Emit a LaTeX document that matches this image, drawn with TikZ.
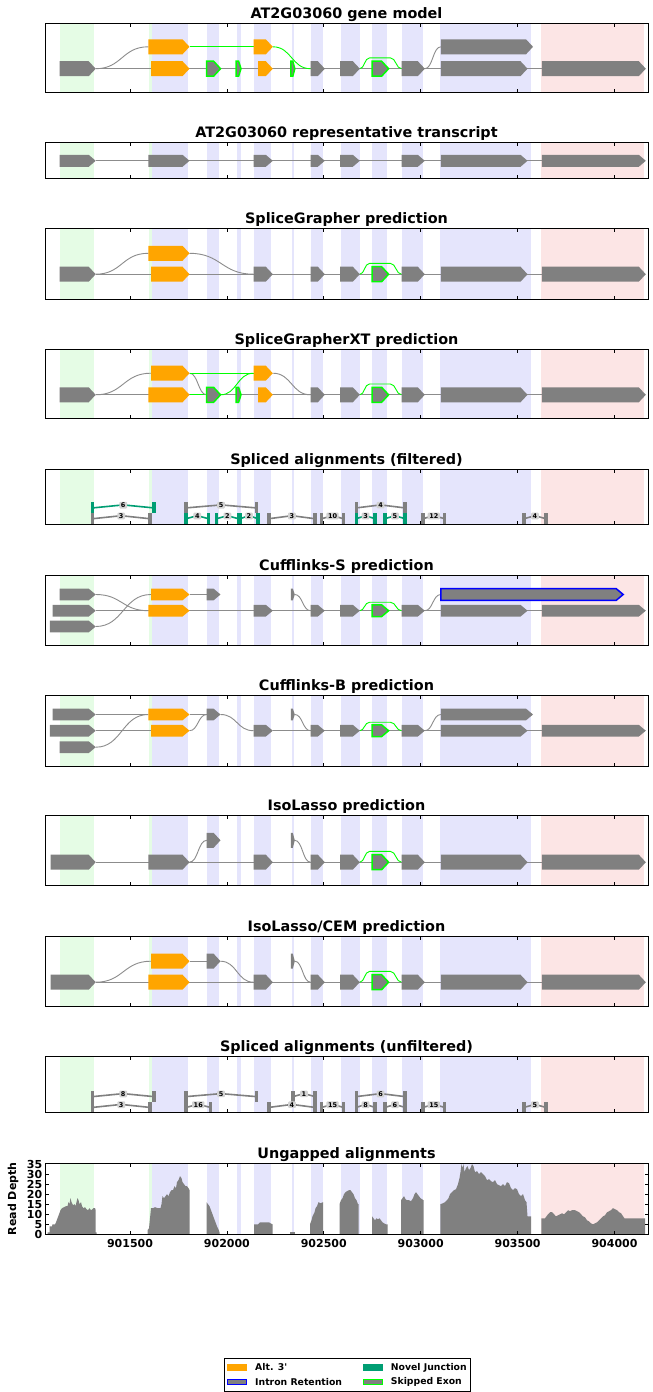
\documentclass[tikz,border=0pt]{standalone}
\usepackage{fontspec}
\setmainfont{DejaVu Sans}
\newfontfamily\plainsans{DejaVu Sans}
\usetikzlibrary{calc}

\definecolor{exgray}{RGB}{128,128,128}
\definecolor{intgray}{RGB}{140,140,140}
\definecolor{altorange}{RGB}{255,165,0}
\definecolor{skipgreen}{RGB}{0,255,0}
\definecolor{irblue}{RGB}{0,0,255}
\definecolor{novelteal}{RGB}{0,158,115}
\definecolor{bggreen}{RGB}{229,252,229}
\definecolor{bgblue}{RGB}{229,229,252}
\definecolor{bgpink}{RGB}{252,229,229}
\definecolor{lblgray}{RGB}{211,211,211}

\tikzset{
  gex/.style={fill=exgray},
  oex/.style={fill=altorange},
  sex/.style={fill=exgray, draw=skipgreen, line width=1.5pt},
  irex/.style={fill=exgray, draw=irblue, line width=1.5pt},
  intron/.style={draw=intgray, line width=0.9pt},
  skipline/.style={draw=skipgreen, line width=0.9pt},
  axisbox/.style={draw=black, line width=0.9pt},
  tickline/.style={draw=black, line width=0.8pt},
  titletext/.style={font=\bfseries\fontsize{14.4}{16}\selectfont, inner sep=0pt},
  ticktext/.style={font=\bfseries\fontsize{11}{12}\selectfont, inner sep=0pt},
  jlabel/.style={fill=lblgray, rounded corners=1pt, inner xsep=1.6pt, inner ysep=0.9pt,
    font=\bfseries\fontsize{6.5}{6.5}\selectfont, text=black},
  legtext/.style={font=\plainsans\bfseries\fontsize{9.3}{10}\selectfont, inner sep=0pt, anchor=west},
}

% exon: style, x start, x end, row centre, height
\newcommand\exonshape[5]{%
  \pgfmathsetmacro\exTip{min(7,0.5*(#3-#2))}%
  \path[#1] (#2,{#4-#5/2}) -- ({#3-\exTip},{#4-#5/2}) -- (#3,#4)
    -- ({#3-\exTip},{#4+#5/2}) -- (#2,{#4+#5/2}) -- cycle;}

% s-shaped connector between rows: style, x1, y1, x2, y2
\newcommand\sig[5]{%
  \draw[#1] (#2,#3) .. controls ({(#2+#4)/2},#3) and ({(#2+#4)/2},#5) .. (#4,#5);}

% bypass arc over the skipped exon: row centre, height
\newcommand\skiparc[2]{%
  \pgfmathsetmacro\arcTop{#1-0.72*#2}%
  \draw[skipline] (359.8,#1) .. controls (364.5,#1) and (364.5,\arcTop) .. (369.5,\arcTop)
    -- (390.5,\arcTop) .. controls (396,\arcTop) and (396,#1) .. (401.5,#1);}

% common 3' part of the gene: row centre, height
\newcommand\tailrow[2]{%
  \skiparc{#1}{#2}%
  \exonshape{gex}{310.5}{324.8}{#1}{#2}%
  \exonshape{gex}{340}{359.8}{#1}{#2}%
  \exonshape{sex}{372}{388.6}{#1}{#2}%
  \exonshape{gex}{401.5}{424.8}{#1}{#2}%
  \exonshape{gex}{440.8}{527.5}{#1}{#2}%
  \exonshape{gex}{541.8}{645.8}{#1}{#2}}

% shaded exon regions: top, bottom
\newcommand\panelbg[2]{%
  \foreach \xa/\xb in {60/94.3,149/151.5}{\fill[bggreen] (\xa,#1) rectangle (\xb,#2);}
  \foreach \xa/\xb in {151.5/187.7,206.7/219,236.5/240.7,254/270.7,291.7/294.3,311/322.7,
      340.8/359.5,372.3/386.7,402/423.3,440/531}{\fill[bgblue] (\xa,#1) rectangle (\xb,#2);}
  \fill[bgpink] (541,#1) rectangle (644,#2);}

% frame, ticks and title: top, bottom, title
\newcommand\panelbox[3]{%
  \draw[axisbox] (45,#1) rectangle (648,#2);
  \foreach \tx in {130,226.9,323.8,420.7,517.6,614.5}{%
    \draw[tickline] (\tx,#1) -- ++(0,3.5);
    \draw[tickline] (\tx,#2) -- ++(0,-3.5);}
  \node[titletext, anchor=base] at (346.5,{#1-4.8}) {#3};}

% splice junction: colour, donor x, acceptor x, tier top, read count
\newcommand\junc[5]{%
  \fill[#1] ({#2-1.7},#4) rectangle ({#2+1.7},{#4+10.8});
  \fill[#1] ({#3-1.7},#4) rectangle ({#3+1.7},{#4+10.8});
  \draw[#1, line width=1.6pt] (#2,{#4+5.5}) -- ({(#2+#3)/2},{#4+2.5}) -- (#3,{#4+5.5});
  \node[jlabel] at ({(#2+#3)/2},{#4+2.8}) {#5};}

\begin{document}
\begin{tikzpicture}[x=1pt, y=-1pt]
\fill[white] (0,0) rectangle (653,1392);
\useasboundingbox (0,0) rectangle (653,1392);

% ---------- gene model ----------
\panelbg{23.3}{92.7}
\draw[intron] (95.7,68.7) -- (541.8,68.7);
\sig{intron}{95.7}{68.7}{148.3}{46.8}
\draw[skipline] (189.5,46.8) -- (253.5,46.8);
\sig{skipline}{272.8}{46.8}{310.5}{68.7}
\sig{intron}{424.8}{68.7}{440.8}{46.8}
\exonshape{gex}{59.5}{95.7}{68.7}{15}
\exonshape{oex}{151}{189.5}{68.7}{15}
\exonshape{sex}{206.7}{220.5}{68.7}{15}
\exonshape{sex}{236.2}{241}{68.7}{15}
\exonshape{oex}{258}{272.8}{68.7}{15}
\exonshape{sex}{290.8}{294.8}{68.7}{15}
\tailrow{68.7}{15}
\exonshape{oex}{148.3}{189.5}{46.8}{15}
\exonshape{oex}{253.5}{272.8}{46.8}{15}
\exonshape{gex}{440.8}{533}{46.8}{15}
\panelbox{23.3}{92.7}{AT2G03060 gene model}

% ---------- representative transcript ----------
\panelbg{142.7}{178.3}
\draw[intron] (95.7,160.8) -- (541.8,160.8);
\foreach \xa/\xb in {59.5/95.7,148.3/189.5,253.5/272.8,310.5/324.8,340/359.8,401.5/424.8,440.8/527.5,541.8/645.8}
  {\exonshape{gex}{\xa}{\xb}{160.8}{12}}
\panelbox{142.7}{178.3}{AT2G03060 representative transcript}

% ---------- SpliceGrapher ----------
\panelbg{228.3}{299}
\draw[intron] (95.7,274.2) -- (541.8,274.2);
\sig{intron}{95.7}{274.2}{148.3}{253.3}
\sig{intron}{189.5}{253.3}{253.5}{274.2}
\exonshape{gex}{59.5}{95.7}{274.2}{15}
\exonshape{oex}{151}{189.5}{274.2}{15}
\exonshape{gex}{253.5}{272.8}{274.2}{15}
\tailrow{274.2}{15}
\exonshape{oex}{148.3}{189.5}{253.3}{15}
\panelbox{228.3}{299}{SpliceGrapher prediction}

% ---------- SpliceGrapherXT ----------
\panelbg{349}{418.3}
\draw[intron] (95.7,394.8) -- (541.8,394.8);
\draw[skipline] (189.5,394.8) -- (206.7,394.8);
\sig{intron}{95.7}{394.8}{151}{373.2}
\sig{intron}{189.5}{373.2}{206.7}{394.8}
\draw[skipline] (189.5,373.2) -- (253.5,373.2);
\sig{skipline}{220.5}{394.8}{253.5}{373.2}
\sig{intron}{272.8}{373.2}{310.5}{394.8}
\exonshape{gex}{59.5}{95.7}{394.8}{15}
\exonshape{oex}{148.3}{189.5}{394.8}{15}
\exonshape{sex}{206.7}{220.5}{394.8}{15}
\exonshape{sex}{236.2}{241}{394.8}{15}
\exonshape{oex}{258}{272.8}{394.8}{15}
\tailrow{394.8}{15}
\exonshape{oex}{151}{189.5}{373.2}{15}
\exonshape{oex}{253.5}{272.8}{373.2}{15}
\panelbox{349}{418.3}{SpliceGrapherXT prediction}

% ---------- spliced alignments, filtered ----------
\panelbg{469.3}{524}
\junc{novelteal}{92.7}{153.8}{502.4}{6}
\junc{exgray}{186}{256.2}{502.4}{5}
\junc{exgray}{356.2}{405}{502.4}{4}
\junc{exgray}{92.7}{149.8}{513.2}{3}
\junc{novelteal}{186}{208.6}{513.2}{4}
\junc{novelteal}{216.5}{238.3}{513.2}{2}
\junc{novelteal}{240}{258}{513.2}{2}
\junc{exgray}{268.9}{315}{513.2}{3}
\junc{exgray}{321.7}{343.5}{513.2}{10}
\junc{novelteal}{356.2}{375}{513.2}{3}
\junc{novelteal}{385}{405}{513.2}{5}
\junc{exgray}{422.9}{444.7}{513.2}{12}
\junc{exgray}{524}{545.9}{513.2}{4}
\panelbox{469.3}{524}{Spliced alignments (filtered)}

% ---------- Cufflinks-S ----------
\panelbg{575}{645.5}
\draw[intron] (95.7,610.7) -- (541.8,610.7);
\sig{intron}{95.7}{594.5}{148.3}{610.7}
\sig{intron}{95.7}{626.5}{151}{594.5}
\draw[intron] (189.5,594.5) -- (206.7,594.5);
\sig{intron}{294.8}{594.5}{310.5}{610.7}
\sig{intron}{424.8}{610.7}{440.8}{594.5}
\exonshape{gex}{59.5}{95.7}{594.5}{11.7}
\exonshape{oex}{151}{189.5}{594.5}{11.7}
\exonshape{gex}{206.7}{220.5}{594.5}{11.7}
\exonshape{gex}{290.8}{294.8}{594.5}{11.7}
\exonshape{irex}{440.8}{623.2}{594.5}{11.7}
\exonshape{gex}{52.6}{95.7}{610.7}{11.7}
\exonshape{oex}{148.3}{189.5}{610.7}{11.7}
\exonshape{gex}{253.5}{272.8}{610.7}{11.7}
\tailrow{610.7}{11.7}
\exonshape{gex}{49.8}{95.7}{626.5}{11.7}
\panelbox{575}{645.5}{Cufflinks-S prediction}

% ---------- Cufflinks-B ----------
\panelbg{695}{766}
\draw[intron] (95.7,714.5) -- (148.3,714.5);
\draw[intron] (189.5,714.5) -- (206.7,714.5);
\draw[intron] (95.7,730.7) -- (151,730.7);
\draw[intron] (272.8,730.7) -- (541.8,730.7);
\sig{intron}{95.7}{747.2}{148.3}{714.5}
\sig{intron}{189.5}{730.7}{206.7}{714.5}
\sig{intron}{220.5}{714.5}{253.5}{730.7}
\sig{intron}{294.8}{714.5}{310.5}{730.7}
\sig{intron}{424.8}{730.7}{440.8}{714.5}
\exonshape{gex}{52.6}{95.7}{714.5}{11.7}
\exonshape{oex}{148.3}{189.5}{714.5}{11.7}
\exonshape{gex}{206.7}{220.5}{714.5}{11.7}
\exonshape{gex}{290.8}{294.8}{714.5}{11.7}
\exonshape{gex}{440.8}{533}{714.5}{11.7}
\exonshape{gex}{49.8}{95.7}{730.7}{11.7}
\exonshape{oex}{151}{189.5}{730.7}{11.7}
\exonshape{gex}{253.5}{272.8}{730.7}{11.7}
\tailrow{730.7}{11.7}
\exonshape{gex}{59.5}{95.7}{747.2}{11.7}
\panelbox{695}{766}{Cufflinks-B prediction}

% ---------- IsoLasso ----------
\panelbg{815.7}{885.7}
\draw[intron] (95.7,862.2) -- (541.8,862.2);
\sig{intron}{189.5}{862.2}{206.7}{840.3}
\sig{intron}{294.8}{840.3}{310.5}{862.2}
\exonshape{gex}{206.7}{220.5}{840.3}{15}
\exonshape{gex}{290.8}{294.8}{840.3}{15}
\exonshape{gex}{50.6}{95.7}{862.2}{15}
\exonshape{gex}{148.3}{189.5}{862.2}{15}
\exonshape{gex}{253.5}{272.8}{862.2}{15}
\tailrow{862.2}{15}
\panelbox{815.7}{885.7}{IsoLasso prediction}

% ---------- IsoLasso/CEM ----------
\panelbg{936.7}{1006.7}
\draw[intron] (95.7,982.2) -- (541.8,982.2);
\sig{intron}{95.7}{982.2}{151}{961.2}
\draw[intron] (189.5,961.2) -- (206.7,961.2);
\sig{intron}{220.5}{961.2}{253.5}{982.2}
\sig{intron}{294.8}{961.2}{310.5}{982.2}
\exonshape{oex}{151}{189.5}{961.2}{15}
\exonshape{gex}{206.7}{220.5}{961.2}{15}
\exonshape{gex}{290.8}{294.8}{961.2}{15}
\exonshape{gex}{50.6}{95.7}{982.2}{15}
\exonshape{oex}{148.3}{189.5}{982.2}{15}
\exonshape{gex}{253.5}{272.8}{982.2}{15}
\tailrow{982.2}{15}
\panelbox{936.7}{1006.7}{IsoLasso/CEM prediction}

% ---------- spliced alignments, unfiltered ----------
\panelbg{1056.7}{1112.7}
\junc{exgray}{92.7}{153.8}{1091.1}{8}
\junc{exgray}{186}{256.2}{1091.1}{5}
\junc{exgray}{293}{315}{1091.1}{1}
\junc{exgray}{356.2}{405}{1091.1}{6}
\junc{exgray}{92.7}{149.8}{1101.9}{3}
\junc{exgray}{186}{210.5}{1101.9}{16}
\junc{exgray}{268.9}{315}{1101.9}{4}
\junc{exgray}{321.7}{343.5}{1101.9}{15}
\junc{exgray}{356.2}{375}{1101.9}{8}
\junc{exgray}{385}{405}{1101.9}{6}
\junc{exgray}{422.9}{444.7}{1101.9}{15}
\junc{exgray}{524}{545.9}{1101.9}{5}
\panelbox{1056.7}{1112.7}{Spliced alignments (unfiltered)}

% ---------- ungapped read depth ----------
\panelbg{1163.3}{1234.3}
\begin{scope}[yshift=-1234.3pt, y=2.006pt]
\fill[exgray] (47.5,0) -- (47.5,1) -- (49.5,1) -- (49.5,4) -- (52,4) -- (52.5,5) -- (55,5) -- (56,6) -- (57.5,8)
  -- (59,10) -- (60.5,12) -- (62,13) -- (64,13.5) -- (66,14) -- (67.5,14) -- (68.5,16) -- (69.5,15) -- (70.5,18)
  -- (71.5,16) -- (73,14.5) -- (74.5,15) -- (75.5,14) -- (76.5,16) -- (77.5,18) -- (78.5,17) -- (79.5,15)
  -- (81,16) -- (82,14) -- (83.5,13) -- (85,13.5) -- (86.5,12.5) -- (88,12) -- (89.5,13) -- (91,12)
  -- (92.5,12.5) -- (93.5,13) -- (95,13) -- (95.7,12) -- (95.7,1) -- (96.5,1) -- (96.5,0) -- cycle;
\fill[exgray] (147.5,0) -- (147.5,2) -- (149,3) -- (150,8) -- (151,13) -- (153,13) -- (155,13.5) -- (158,13)
  -- (160.5,13) -- (161.5,15) -- (162.5,19) -- (164,18) -- (165.5,19) -- (167,20) -- (168.5,19) -- (170,21)
  -- (171.5,22) -- (173,22) -- (174.5,24) -- (176,23) -- (177,26) -- (178.5,27) -- (180,29) -- (181.5,28)
  -- (182.5,26) -- (184,25) -- (185.5,24) -- (187,24) -- (188.5,23) -- (189.5,22) -- (189.5,0) -- cycle;
\fill[exgray] (206.5,0) -- (206.5,16) -- (208,15) -- (209.5,14) -- (211,12) -- (212.5,10) -- (214,8)
  -- (215.5,6) -- (217,4) -- (218.5,2.5) -- (219.5,1) -- (219.5,0) -- cycle;
\fill[exgray] (254,0) -- (254,5) -- (258,5) -- (260,6) -- (266,6) -- (269,6) -- (270.5,5.5) -- (272.5,5)
  -- (272.5,0) -- cycle;
\fill[exgray] (289.5,0) -- (289.5,1) -- (295,1) -- (295,0) -- cycle;
\fill[exgray] (310,0) -- (310,5) -- (311.5,7) -- (312.5,9) -- (313.5,10) -- (314.5,11) -- (315.5,13)
  -- (317,14) -- (318.5,16) -- (320.5,15.5) -- (323,16) -- (323,0) -- cycle;
\fill[exgray] (339.5,0) -- (339.5,15) -- (341,17) -- (342.5,18) -- (344,20) -- (345.5,21) -- (347,21.5)
  -- (349,22) -- (350.5,22) -- (352,21) -- (353.5,20) -- (355,18) -- (356.5,17) -- (358,15) -- (358.5,15)
  -- (358.5,0) -- cycle;
\fill[exgray] (372,0) -- (372,9) -- (373.5,8) -- (375,7) -- (376.5,8) -- (378,7.5) -- (379.5,8) -- (381,7)
  -- (382.5,6) -- (384,5.5) -- (386,5) -- (387.5,5) -- (387.5,0) -- cycle;
\fill[exgray] (401,0) -- (401,17) -- (402.5,18) -- (404,19) -- (405.5,17.5) -- (407,17) -- (409,17)
  -- (411,16.5) -- (413,18) -- (414.5,20) -- (416,21) -- (417.5,20) -- (419,19) -- (420.5,18) -- (422,17.5)
  -- (423.5,17) -- (423.5,0) -- cycle;
\fill[exgray] (440.3,0) -- (440.3,15) -- (443,15.5) -- (445,16) -- (447,17) -- (448.5,18) -- (450,20)
  -- (452,21) -- (454,22) -- (456,22.5) -- (458,25) -- (459.5,28) -- (460.5,31) -- (461.5,35) -- (462.5,33)
  -- (463.5,35) -- (464.5,31) -- (466,33) -- (467.5,34) -- (469,32) -- (470.5,33) -- (472,35) -- (473.5,34)
  -- (475,31) -- (477,31.5) -- (479,30) -- (481,31) -- (483,30) -- (485,29) -- (487,27) -- (489,27.5)
  -- (491,26.5) -- (493,26) -- (495,27) -- (497,25) -- (499,24.5) -- (501,24) -- (503,25) -- (505,24)
  -- (507,26) -- (509,25.5) -- (511,23) -- (513,22) -- (515,23) -- (517,22.5) -- (519,20) -- (521,19)
  -- (523,20) -- (525,17) -- (526.5,16) -- (527.5,9) -- (531,9) -- (531,0) -- cycle;
\fill[exgray] (541.3,0) -- (541.3,8) -- (545,8) -- (546.5,9) -- (548,10) -- (550,11) -- (552,11) -- (554,10)
  -- (556,9) -- (558,9.5) -- (560,10) -- (562,10.5) -- (564,10) -- (566,11) -- (568,12) -- (570,11.5)
  -- (572,12) -- (575,12) -- (577,11.5) -- (579,11) -- (581,10) -- (583,9) -- (585,8.5) -- (587,7)
  -- (589,6.5) -- (591,5.5) -- (593,5) -- (595,5.5) -- (597,6) -- (599,7) -- (601,8) -- (603,9) -- (605,9.5)
  -- (607,11) -- (609,11.5) -- (611,12) -- (613,13) -- (615,12.5) -- (617,12) -- (619,11) -- (621,10.5)
  -- (623,9) -- (624.5,8) -- (645,8) -- (645,0) -- cycle;
\end{scope}
\panelbox{1163.3}{1234.3}{Ungapped alignments}
\foreach \d in {5,10,...,30}{%
  \draw[tickline] (45,{1234.3-2.006*\d}) -- ++(3.5,0);
  \draw[tickline] (648,{1234.3-2.006*\d}) -- ++(-3.5,0);}
\foreach \d in {0,5,...,35}{%
  \node[ticktext, anchor=base east] at (42.5,{1234.3-2.006*\d+4}) {\d};}
\foreach \tx/\lab in {130/901500,226.9/902000,323.8/902500,420.7/903000,517.6/903500,614.5/904000}{%
  \node[ticktext, anchor=base] at (\tx,1247) {\lab};}
\node[ticktext, rotate=90] at (13,1198.8) {Read Depth};

% ---------- legend ----------
\draw[black, line width=0.6pt] (224,1358) rectangle (470.5,1391);
\fill[altorange] (226.7,1364.2) rectangle (247.3,1370.8);
\node[legtext] (la) at (255,1367.5) {Alt. 3'};
\draw[irblue, fill=exgray, line width=1.2pt] (227.3,1379.3) rectangle (246.7,1384.7);
\node[legtext] (lb) at (255,1382) {Intron Retention};
\fill[novelteal] (362.7,1364.2) rectangle (383.3,1370.8);
\node[legtext] (lc) at (390.7,1367.5) {Novel Junction};
\draw[skipgreen, fill=exgray, line width=1.2pt] (363.3,1379.3) rectangle (382.7,1384.7);
\node[legtext] (ld) at (390.7,1382) {Skipped Exon};
\end{tikzpicture}
\end{document}
